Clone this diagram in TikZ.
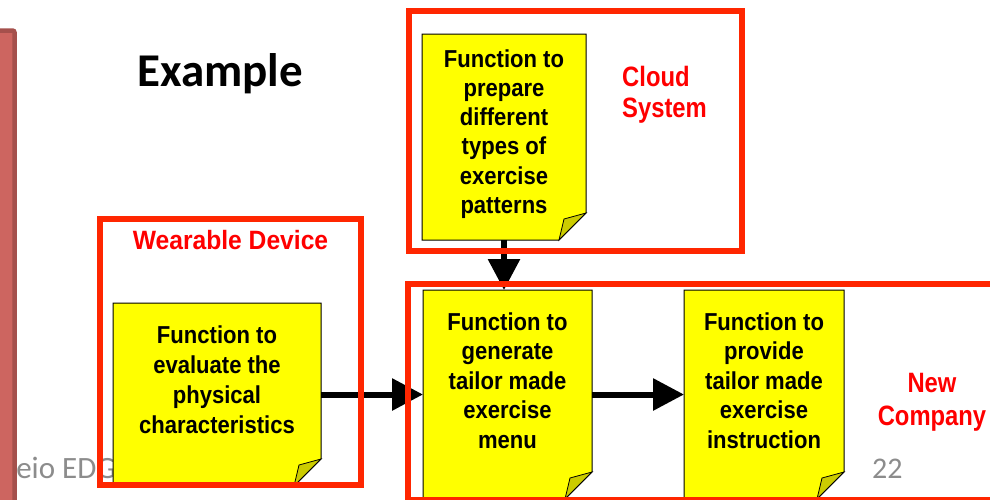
\documentclass[tikz,border=0pt]{standalone}
\usepackage{fontspec}
\setmainfont{Liberation Sans}
\newfontfamily\notefont[FakeStretch=0.90]{Liberation Sans}
\newfontfamily\widefont[FakeStretch=0.93]{Liberation Sans}
\newfontfamily\tagfont[FakeStretch=0.85]{Liberation Sans}
\newfontfamily\slidefont{Carlito}
\usetikzlibrary{arrows.meta}

\definecolor{framered}{RGB}{255,38,0}
\definecolor{tagred}{RGB}{255,0,0}
\definecolor{memoyellow}{RGB}{255,255,0}
\definecolor{memofold}{RGB}{204,204,0}
\definecolor{barfill}{RGB}{205,101,96}
\definecolor{barline}{RGB}{165,80,76}
\definecolor{footgray}{RGB}{140,140,140}

\tikzset{
  memo/.style={rectangle, inner sep=0pt, outer sep=0pt},
  % multi-line texts are placed by the baseline of their last line
  memotext/.style={inner sep=0pt, align=center, anchor=base,
    font=\notefont\bfseries\fontsize{24.5}{29.5}\selectfont},
  zone/.style={rectangle, draw=framered, line width=6pt, inner sep=0pt, outer sep=0pt},
  zonetag/.style={inner sep=0pt, text=tagred,
    font=\tagfont\bfseries\fontsize{28}{32}\selectfont},
  flow/.style={line width=6pt, -{Triangle[length=31pt,width=31pt]}},
}

% yellow memo sheet with a folded bottom-right corner
\newcommand{\drawmemo}[1]{%
  \filldraw[fill=memoyellow, draw=black, line width=1pt]
    (#1.north west) -- (#1.north east) -- ([yshift=27pt]#1.south east)
    -- ([xshift=-27pt]#1.south east) -- (#1.south west) -- cycle;
  \filldraw[fill=memofold, draw=black, line width=0.8pt]
    ([yshift=27pt]#1.south east) -- ([xshift=-22pt,yshift=21pt]#1.south east)
    -- ([xshift=-27pt]#1.south east) -- cycle;
}

\begin{document}
\begin{tikzpicture}[x=1pt, y=-1pt]
  \useasboundingbox (0,0) rectangle (990,499);
  \fill[white] (0,0) rectangle (990,499);

  % slide footer and title
  \node[inner sep=0pt, anchor=base west, text=footgray,
        font=\slidefont\fontsize{31}{36}\selectfont] (footer) at (0.5,478) {Keio EDGE};
  \node[inner sep=0pt, anchor=base west, text=footgray,
        font=\slidefont\fontsize{30}{36}\selectfont] (pageno) at (872,478) {22};
  \node[inner sep=0pt, anchor=base west,
        font=\slidefont\bfseries\fontsize{47}{52}\selectfont] (title) at (137,86) {Example};

  % side bar
  \filldraw[fill=barfill, draw=barline, line width=4.5pt, rounded corners=2pt]
    (-10,30.5) rectangle (14.5,530);

  % memo geometry
  \node[memo, minimum width=164pt, minimum height=206pt] (n1) at (504,137) {};
  \node[memo, minimum width=208pt, minimum height=183pt] (n2) at (217,394.5) {};
  \node[memo, minimum width=169pt, minimum height=209pt] (n3) at (507.5,394.5) {};
  \node[memo, minimum width=160pt, minimum height=209pt] (n4) at (764,394.5) {};

  \drawmemo{n1}
  \drawmemo{n2}
  \drawmemo{n3}
  \drawmemo{n4}

  \node[memotext, font=\notefont\bfseries\fontsize{24.5}{29.3}\selectfont] (t1) at (504,213.5)
    {Function to\\prepare\\different\\types of\\exercise\\patterns};
  \node[memotext, font=\notefont\bfseries\fontsize{24.5}{29.7}\selectfont] (t2) at (217,433)
    {Function to\\evaluate the\\physical\\characteristics};
  \node[memotext] (t3) at (507.5,448) {Function to\\generate\\tailor made\\exercise\\menu};
  \node[memotext] (t4) at (764,448) {Function to\\provide\\tailor made\\exercise\\instruction};

  % data flow
  \draw[flow] (n1.south) -- (n1.south |- n3.north);
  \draw[flow] (n2.east) -- (n3.west);
  \draw[flow] (n3.east) -- (n4.west);

  % system boundaries
  \node[zone, minimum width=261.5pt, minimum height=266.5pt] (wear) at (230.25,351.75) {};
  \node[zone, minimum width=333pt, minimum height=240pt] (cloud) at (575,130.5) {};
  \node[zone, minimum width=600pt, minimum height=216pt] (newco) at (707.5,392) {};

  \node[zonetag, anchor=base, font=\widefont\bfseries\fontsize{26.5}{30}\selectfont]
    (weartag) at (230.5,249) {Wearable Device};
  \node[zonetag, anchor=base west, align=left, font=\tagfont\bfseries\fontsize{28}{31}\selectfont]
    (cloudtag) at (622,117) {Cloud\\System};
  \node[zonetag, anchor=base, align=center, font=\tagfont\bfseries\fontsize{28}{33}\selectfont]
    (newcotag) at (932,425) {New\\Company};
\end{tikzpicture}
\end{document}
